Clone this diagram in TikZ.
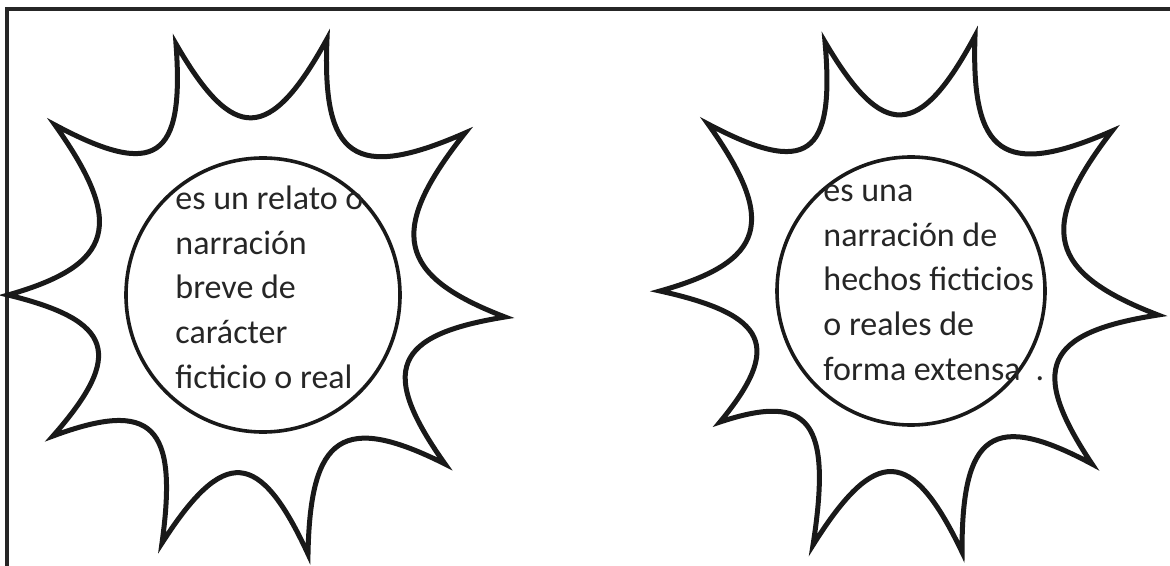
\documentclass[tikz,border=0pt]{standalone}
\usepackage{fontspec}
\setmainfont{Carlito}
\usetikzlibrary{calc}

\tikzset{
  sunline/.style={line width=2.5pt, black!90},
  core/.style={draw=black!90, line width=1.8pt, circle, inner sep=0pt, minimum size=#1},
  sunlabel/.style={anchor=base west, align=left, inner sep=0pt, text=black!85,
    font=\fontsize{17}{22.3}\selectfont},
}

\begin{document}
\begin{tikzpicture}[x=0.5pt, y=-0.5pt]
\useasboundingbox (0,0) rectangle (1170,566);
% frame
\draw[line width=1.6pt, black!85] (7,566) -- (7,9) -- (1170,9);

% left sun
\coordinate (lc) at (252,296);
\foreach \i/\p in {1/{176,44}, 2/{327,39}, 3/{465,133}, 4/{505,317}, 5/{445,464},
                   6/{308,554}, 7/{162,543}, 8/{53,436}, 9/{8,295}, 10/{55,125}}
  \coordinate (l\i) at (\p);
\draw[sunline] (l1) foreach \i/\j in {1/2,2/3,3/4,4/5,5/6,6/7,7/8,8/9,9/10,10/1} {
  .. controls ($0.4*(lc)+0.42*(l\i)+0.18*(l\j)$) and ($0.4*(lc)+0.18*(l\i)+0.42*(l\j)$) .. (l\j)
} -- cycle;
\node[core=137pt] (lcore) at (263,295) {};
% anchor is the last line's baseline
\node[sunlabel] (ltext) at (175,388) {es un relato o\\ narración\\ breve de\\ carácter\\ ficticio o real};

% right sun
\coordinate (rc) at (903,292);
\foreach \i/\p in {1/{825,42}, 2/{975,36}, 3/{1112,131}, 4/{1158,315}, 5/{1092,464},
                   6/{962,552}, 7/{813,545}, 8/{720,422}, 9/{660,291}, 10/{708,124}}
  \coordinate (r\i) at (\p);
\draw[sunline] (r1) foreach \i/\j in {1/2,2/3,3/4,4/5,5/6,6/7,7/8,8/9,9/10,10/1} {
  .. controls ($0.4*(rc)+0.42*(r\i)+0.18*(r\j)$) and ($0.4*(rc)+0.18*(r\i)+0.42*(r\j)$) .. (r\j)
} -- cycle;
\node[core=134pt] (rcore) at (911,291) {};
\node[sunlabel] (rtext) at (823,380) {es una\\ narración de\\ hechos ficticios\\ o reales de\\ forma extensa\hspace{7.5pt}.};
\end{tikzpicture}
\end{document}
